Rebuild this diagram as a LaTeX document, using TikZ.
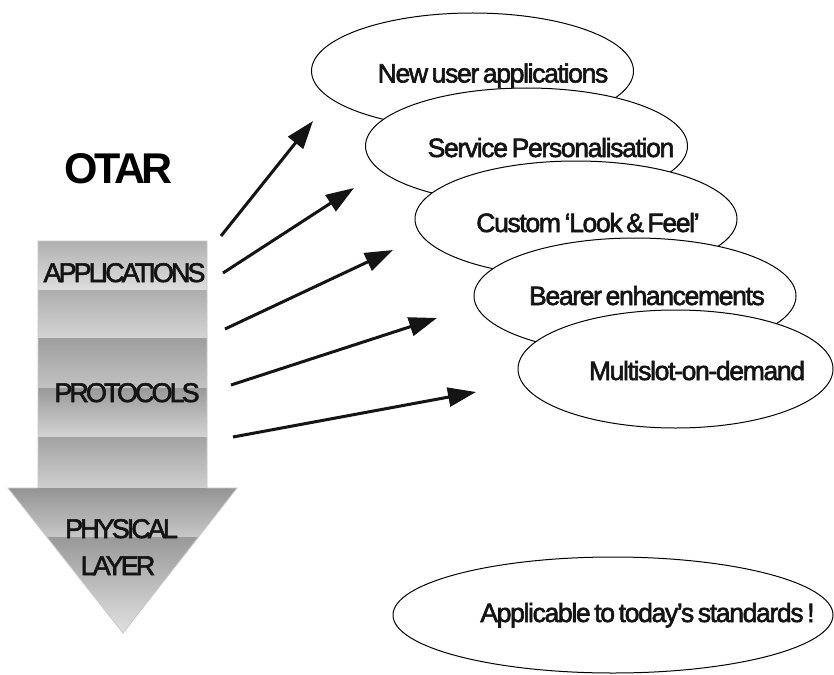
\documentclass[tikz,border=0pt]{standalone}
\usepackage{fontspec}
\setmainfont{Liberation Sans}
\newfontfamily\bubblefont[LetterSpace=-5,WordSpace=0.6,FakeBold=2.2]{Liberation Sans}
\newfontfamily\layerfont[LetterSpace=-11,FakeBold=2.2]{Liberation Sans}
\newfontfamily\titlefont[LetterSpace=-8]{Liberation Sans}
\usetikzlibrary{shapes.geometric,arrows.meta}

\tikzset{
  bubble/.style={ellipse, draw=black, line width=1pt, fill=white, inner sep=0pt,
                 minimum width=322pt, minimum height=116pt},
  bubbletext/.style={anchor=base, inner sep=0pt, text=black!92,
                     font=\bubblefont\fontsize{26.5}{31}\selectfont},
  layertext/.style={anchor=base, inner sep=0pt, text=black!92,
                    font=\layerfont\fontsize{27}{32}\selectfont},
  band/.style={draw=none},
  pointer/.style={line width=3pt, black!92, -{Triangle[length=28pt,width=19pt]}}
}

\begin{document}
\begin{tikzpicture}[x=1pt,y=-1pt]
  \useasboundingbox (0,0) rectangle (834,674);
  \fill[white] (0,0) rectangle (834,674);

  % stack arrow: five shaded bands and a two-part shaded head
  \shade[band, top color=black!31, bottom color=black!13] (38,241) rectangle (207,290);
  \shade[band, top color=black!32, bottom color=black!17] (38,290) rectangle (207,338);
  \shade[band, top color=black!38, bottom color=black!24] (38,338) rectangle (207,388);
  \shade[band, top color=black!40, bottom color=black!17] (38,388) rectangle (207,437);
  \shade[band, top color=black!36, bottom color=black!19] (38,437) rectangle (207,488);
  \shade[band, top color=black!42, bottom color=black!22]
        (8,488) -- (237,488) -- (198.5,537) -- (46.9,537) -- cycle;
  \shade[band, top color=black!40, bottom color=black!12]
        (46.9,537) -- (198.5,537) -- (123,633) -- cycle;
  \draw[black!22, line width=0.8pt]
        (38,241) -- (207,241) -- (207,488) -- (237,488) -- (123,633)
        -- (8,488) -- (38,488) -- cycle;

  \node[anchor=base, inner sep=0pt, text=black,
        font=\titlefont\bfseries\fontsize{43}{50}\selectfont] (otar) at (118.5,183) {OTAR};
  \node[layertext] (apps)  at (124.5,282) {APPLICATIONS};
  \node[layertext] (proto) at (127,402) {PROTOCOLS};
  \node[layertext] (phys)  at (121.5,538) {PHYSICAL};
  \node[layertext] (layer) at (118,575) {LAYER};

  % overlapping bubbles, each drawn over the one before it
  \node[bubble] (e1) at (472.5,71) {};
  \node[bubble] (e2) at (526.5,146) {};
  \node[bubble] (e3) at (576,219) {};
  \node[bubble] (e4) at (635,296) {};
  \node[bubble, minimum width=315pt, minimum height=118pt] (e5) at (675.5,369) {};
  \node[bubble, minimum width=440pt, minimum height=116pt] (e6) at (613,615) {};

  \node[bubbletext] (t1) at (493,82.5) {New user applications};
  \node[bubbletext] (t2) at (551,157) {Service Personalisation};
  \node[bubbletext] (t3) at (588,232) {Custom ‘Look \& Feel’};
  \node[bubbletext] (t4) at (647,305) {Bearer enhancements};
  \node[bubbletext] (t5) at (697,380) {Multislot-on-demand};
  \node[bubbletext] (t6) at (647.5,622) {Applicable to today’s standards !};

  % pointers fanning out from the stack
  \coordinate (s1) at (221,236); \coordinate (h1) at (313,121);
  \coordinate (s2) at (223,273); \coordinate (h2) at (354,188);
  \coordinate (s3) at (225,329); \coordinate (h3) at (393,250);
  \coordinate (s4) at (231,385); \coordinate (h4) at (437,318);
  \coordinate (s5) at (233,437); \coordinate (h5) at (476,392);
  \foreach \i in {1,...,5} {\draw[pointer] (s\i) -- (h\i);}
\end{tikzpicture}
\end{document}
